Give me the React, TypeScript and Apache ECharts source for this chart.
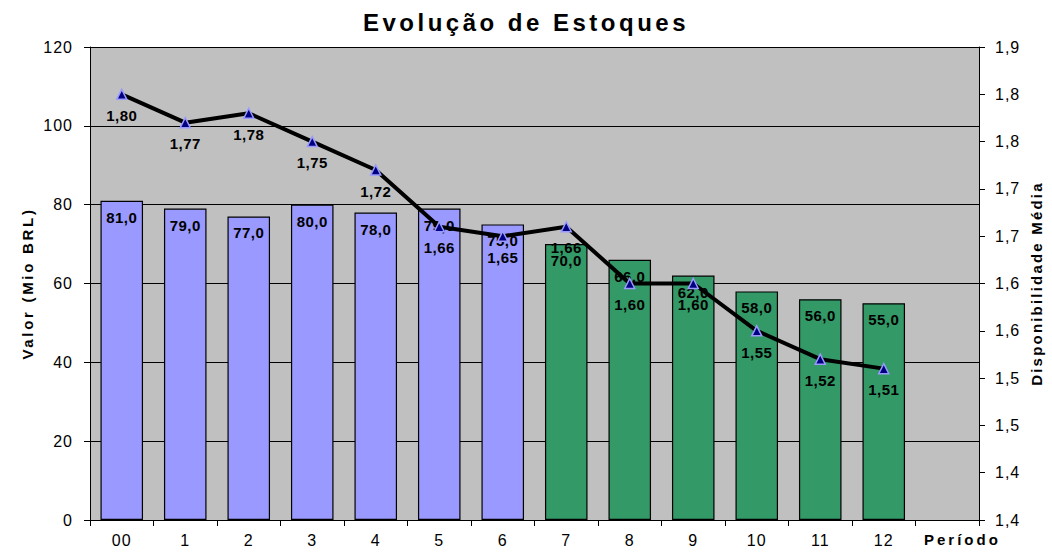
import React, { useEffect, useRef } from "react";
import * as echarts from "echarts";

const periods = ["00", "1", "2", "3", "4", "5", "6", "7", "8", "9", "10", "11", "12"];
const trailingEmptySlots = [""]; // the axis keeps one empty slot after period 12
const stockValues = [81, 79, 77, 80, 78, 79, 75, 70, 66, 62, 58, 56, 55];
const availability = [1.8, 1.77, 1.78, 1.75, 1.72, 1.66, 1.65, 1.66, 1.6, 1.6, 1.55, 1.52, 1.51];
const forecastStart = 7; // first period drawn in green
const leftTicks = { min: 0, max: 120, interval: 20 };
const rightTicks = { min: 1.35, max: 1.85, interval: 0.05 };

const FONT = "'Liberation Sans', Arial, sans-serif";
const BLUE = "#9999FF";
const GREEN = "#339966";

const comma = (v: number, d: number) => {
  const f = Math.pow(10, d);
  return (Math.round(v * f + 1e-7) / f).toFixed(d).replace(".", ",");
};

export default function App() {
  const ref = useRef<HTMLDivElement>(null);
  useEffect(() => {
    document.body.style.margin = "0";
    const el = ref.current!;
    const chart = echarts.init(el, undefined, { renderer: "svg" });
    const option: any = {
      animation: false,
      backgroundColor: "#ffffff",
      title: {
        text: "Evolução de Estoques",
        left: "center",
        top: 5,
        textStyle: { fontFamily: FONT, fontSize: 24, fontWeight: "bold", color: "#000" },
      },
      grid: {
        left: 90,
        right: 70,
        top: 47,
        bottom: 36,
        show: true,
        backgroundColor: "#C0C0C0",
        borderWidth: 0,
      },
      xAxis: {
        type: "category",
        data: [...periods, ...trailingEmptySlots],
        boundaryGap: true,
        axisLine: { show: true, lineStyle: { color: "#000", width: 1 } },
        axisTick: { show: true, length: 6, alignWithLabel: false, lineStyle: { color: "#000" } },
        axisLabel: { fontFamily: FONT, fontSize: 16, color: "#000", margin: 12 },
        splitLine: { show: false },
      },
      yAxis: [
        {
          type: "value",
          ...leftTicks,
          name: "Valor (Mio BRL)",
          nameLocation: "middle",
          nameGap: 52,
          nameRotate: 90,
          nameTextStyle: { fontFamily: FONT, fontSize: 15, fontWeight: "bold", color: "#000" },
          axisLine: { show: true, lineStyle: { color: "#000", width: 1 } },
          axisTick: { show: true, length: 6, lineStyle: { color: "#000" } },
          axisLabel: { fontFamily: FONT, fontSize: 16, color: "#000", margin: 17 },
          splitLine: { show: true, lineStyle: { color: "#000", width: 1 } },
        },
        {
          type: "value",
          ...rightTicks,
          position: "right",
          name: "Disponibilidade Média",
          nameLocation: "middle",
          nameGap: 50,
          nameRotate: 90,
          nameTextStyle: { fontFamily: FONT, fontSize: 15, fontWeight: "bold", color: "#000" },
          axisLine: { show: true, lineStyle: { color: "#000", width: 1 } },
          axisTick: { show: true, length: 6, lineStyle: { color: "#000" } },
          axisLabel: {
            fontFamily: FONT,
            fontSize: 16,
            color: "#000",
            margin: 16,
            formatter: (v: number) => comma(v, 1),
          },
          splitLine: { show: false },
        },
      ],
      graphic: [
        {
          type: "text",
          left: 924,
          top: 532,
          style: {
            text: "Período",
            fontFamily: FONT,
            fontSize: 15,
            fontWeight: "bold",
            fill: "#000",
          },
        },
      ],
      series: [
        {
          type: "bar",
          data: stockValues,
          barWidth: "67%",
          itemStyle: {
            color: (p: any) => (p.dataIndex < forecastStart ? BLUE : GREEN),
            borderColor: "#000",
            borderWidth: 1.2,
          },
          label: {
            show: true,
            position: "insideTop",
            distance: 9,
            fontFamily: FONT,
            fontSize: 15,
            fontWeight: "bold",
            color: "#000",
            formatter: (p: any) => comma(p.value, 1),
          },
          z: 2,
        },
        {
          type: "line",
          yAxisIndex: 1,
          data: availability,
          symbol: "triangle",
          symbolSize: 10,
          lineStyle: { color: "#000", width: 4 },
          itemStyle: { color: "#000080", borderColor: BLUE, borderWidth: 1.5 },
          label: {
            show: true,
            position: "bottom",
            distance: 8,
            fontFamily: FONT,
            fontSize: 15,
            fontWeight: "bold",
            color: "#000",
            formatter: (p: any) => comma(p.value, 2),
          },
          z: 5,
        },
      ],
    };
    chart.setOption(option);

    const spacing = () => {
      el.querySelectorAll("text").forEach((t) => {
        const s = t.textContent || "";
        let ls = "1px";
        if (s === "Evolução de Estoques") ls = "3.5px";
        else if (s === "Valor (Mio BRL)") ls = "2.7px";
        else if (s === "Disponibilidade Média") ls = "2.2px";
        else if (s === "Período") ls = "3px";
        else if (s.indexOf(",") >= 0 && s.length > 3) ls = "0.5px";
        (t as SVGTextElement).style.letterSpacing = ls;
      });
    };
    spacing();
    const timer = setTimeout(spacing, 50);
    return () => {
      clearTimeout(timer);
      chart.dispose();
    };
  }, []);
  return <div ref={ref} style={{ width: 1052, height: 556 }} />;
}
